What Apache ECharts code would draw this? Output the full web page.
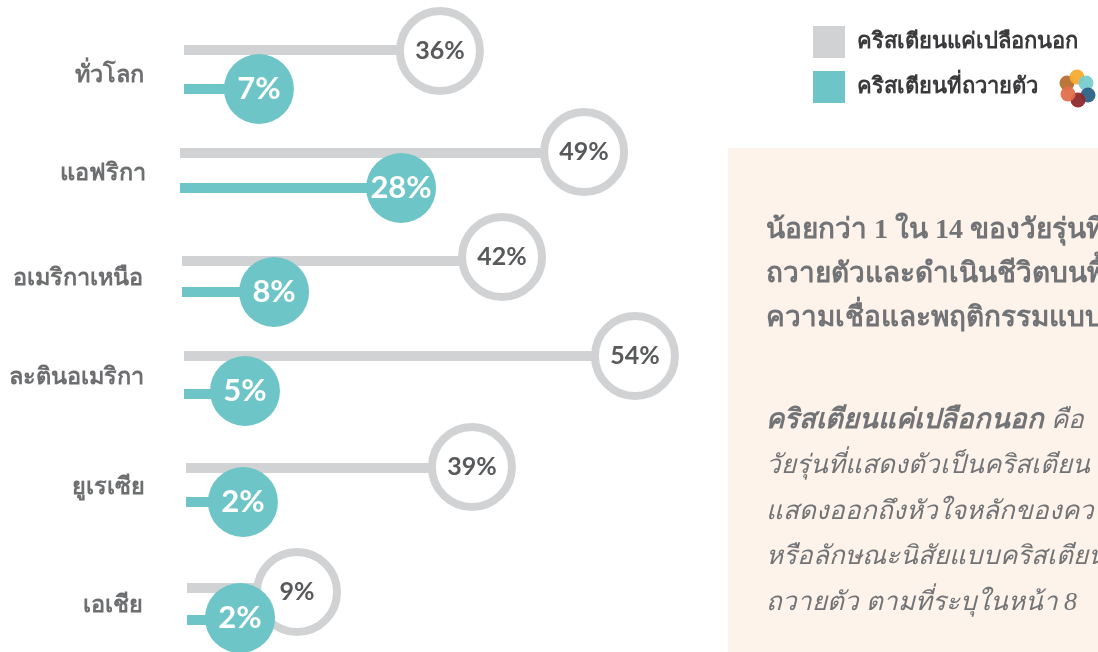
<!DOCTYPE html>
<html>
<head>
<meta charset="utf-8">
<style>
  html, body { margin: 0; padding: 0; background: #fff; }
  #main { width: 1098px; height: 652px; }
</style>
<script src="https://cdn.jsdelivr.net/npm/echarts@6/dist/echarts.min.js"></script>
</head>
<body>
<div id="main"></div>
<script>
var categories = ['ทั่วโลก', 'แอฟริกา', 'อเมริกาเหนือ', 'ละตินอเมริกา', 'ยูเรเซีย', 'เอเชีย']
var outsideName = 'คริสเตียนแค่เปลือกนอก'
var devotedName = 'คริสเตียนที่ถวายตัว'
var outsideValues = [36, 49, 42, 54, 39, 9]
var devotedValues = [7, 28, 8, 5, 2, 2]

var boldLines = [
  'น้อยกว่า 1 ใน 14 ของวัยรุ่นที่',
  'ถวายตัวและดำเนินชีวิตบนพื้นฐาน',
  'ความเชื่อและพฤติกรรมแบบคริสเตียน'
]
var italicLines = [
  '{b|คริสเตียนแค่เปลือกนอก} คือ',
  'วัยรุ่นที่แสดงตัวเป็นคริสเตียน แต่ไม่',
  'แสดงออกถึงหัวใจหลักของความเชื่อ',
  'หรือลักษณะนิสัยแบบคริสเตียน',
  'ถวายตัว ตามที่ระบุในหน้า 8'
]

// the source picture was laid out by hand, every row has its own scale and offset
var rowLeft = [184, 180, 182, 184, 186, 187]
var rowAxisMin = [-5, 2.64, -5.73, -2.66, -7.2, -4.51]
var rowAxisMax = [75.1, 60, 68.83, 60.16, 73.59, 56.89]
var rowOutsideY = [50, 153, 261, 356, 468, 588]
var rowDevotedY = [89, 188, 292, 394, 502, 620]
// circles do not sit exactly on their bars
var outsideCircleShift = [1, -1, -4, 0, -1, 4]
var devotedCircleShift = [0, 0, 0, -3, 0, -2]
var labelRight = [144, 146, 143, 144, 145, 143]
var labelY = [75, 173, 278, 377, 487, 605]

var GRAY = '#d1d2d4'
var TEAL = '#6dc5c7'
var ROW_WIDTH = 500
var FONT = '"Noto Sans", sans-serif'
var SERIF = '"Liberation Serif", serif'

function barItem(color, thickness) {
  return function (params, api) {
    var end = api.coord([api.value(0), api.value(1)])
    return {
      type: 'rect',
      shape: { x: params.coordSys.x, y: end[1] - thickness / 2, width: end[0] - params.coordSys.x, height: thickness },
      style: { fill: color }
    }
  }
}

var grids = []
var xAxes = []
var yAxes = []
var series = []
var graphics = []

categories.forEach(function (name, i) {
  var bandGap = rowDevotedY[i] - rowOutsideY[i]
  grids.push({ left: rowLeft[i], width: ROW_WIDTH, top: rowOutsideY[i] - bandGap / 2, height: bandGap * 2 })
  xAxes.push({ gridIndex: i, type: 'value', min: rowAxisMin[i], max: rowAxisMax[i], show: false })
  yAxes.push({ gridIndex: i, type: 'category', inverse: true, data: [outsideName, devotedName], show: false })

  series.push({
    name: outsideName,
    type: 'custom',
    xAxisIndex: i,
    yAxisIndex: i,
    z: 2,
    itemStyle: { color: GRAY },
    renderItem: barItem(GRAY, 10),
    data: [[outsideValues[i], 0]]
  })
  series.push({
    name: outsideName,
    type: 'scatter',
    xAxisIndex: i,
    yAxisIndex: i,
    clip: false,
    z: 3,
    symbolSize: 80,
    symbolOffset: [0, outsideCircleShift[i]],
    itemStyle: { color: '#fff', borderColor: GRAY, borderWidth: 8, opacity: 1 },
    label: {
      show: true,
      position: 'inside',
      formatter: outsideValues[i] + '%',
      color: '#58595b',
      fontFamily: 'Lato',
      fontWeight: 'bold',
      fontSize: 25
    },
    data: [[outsideValues[i], 0]]
  })
  series.push({
    name: devotedName,
    type: 'custom',
    xAxisIndex: i,
    yAxisIndex: i,
    z: 4,
    itemStyle: { color: TEAL },
    renderItem: barItem(TEAL, 10),
    data: [[devotedValues[i], 1]]
  })
  series.push({
    name: devotedName,
    type: 'scatter',
    xAxisIndex: i,
    yAxisIndex: i,
    clip: false,
    z: 5,
    symbolSize: 70,
    symbolOffset: [0, devotedCircleShift[i]],
    itemStyle: { color: TEAL, opacity: 1 },
    label: {
      show: true,
      position: 'inside',
      formatter: devotedValues[i] + '%',
      color: '#fff',
      fontFamily: 'Lato',
      fontWeight: 'bold',
      fontSize: 31
    },
    data: [[devotedValues[i], 1]]
  })

  graphics.push({
    type: 'text',
    x: labelRight[i],
    y: labelY[i],
    style: { text: name, align: 'right', verticalAlign: 'middle', fill: '#6d6e70', font: 'bold 23.5px ' + FONT }
  })
})

// info panel
graphics.unshift({ type: 'rect', shape: { x: 728, y: 148, width: 370, height: 504 }, style: { fill: '#fef3ea' } })
boldLines.forEach(function (line, i) {
  graphics.push({
    type: 'text',
    x: 766,
    y: 231 + i * 44,
    style: { text: line, verticalAlign: 'middle', fill: '#727376', font: 'bold 28px ' + SERIF }
  })
})
italicLines.forEach(function (line, i) {
  graphics.push({
    type: 'text',
    x: 766,
    y: 421 + i * 45.5,
    style: {
      text: line,
      verticalAlign: 'middle',
      fill: '#727376',
      font: 'italic 26px ' + SERIF,
      rich: { b: { fill: '#727376', font: 'italic bold 27.5px ' + SERIF } }
    }
  })
})

// small logo next to the legend
var logoDots = [
  [1067, 83, '#b7702f'], [1077, 77, '#f5ab30'], [1086, 83, '#79cdcf'],
  [1088, 95, '#2b6287'], [1078, 100, '#8d2a2c'], [1068, 94, '#e16f4c']
]
logoDots.forEach(function (d) {
  graphics.push({ type: 'circle', shape: { cx: d[0], cy: d[1], r: 7.5 }, style: { fill: d[2], opacity: 0.95 } })
})

var chart = echarts.init(document.getElementById('main'), null, { renderer: 'canvas' })
chart.setOption({
  animation: false,
  grid: grids,
  xAxis: xAxes,
  yAxis: yAxes,
  legend: {
    left: 808,
    top: 21,
    orient: 'vertical',
    itemWidth: 32,
    itemHeight: 32,
    itemGap: 13,
    selectedMode: false,
    icon: 'rect',
    data: [outsideName, devotedName],
    textStyle: { color: '#3a3a3c', fontFamily: FONT, fontWeight: 'bold', fontSize: 22, padding: [5, 0, 0, 7] }
  },
  series: series,
  graphic: graphics
})
</script>
</body>
</html>
